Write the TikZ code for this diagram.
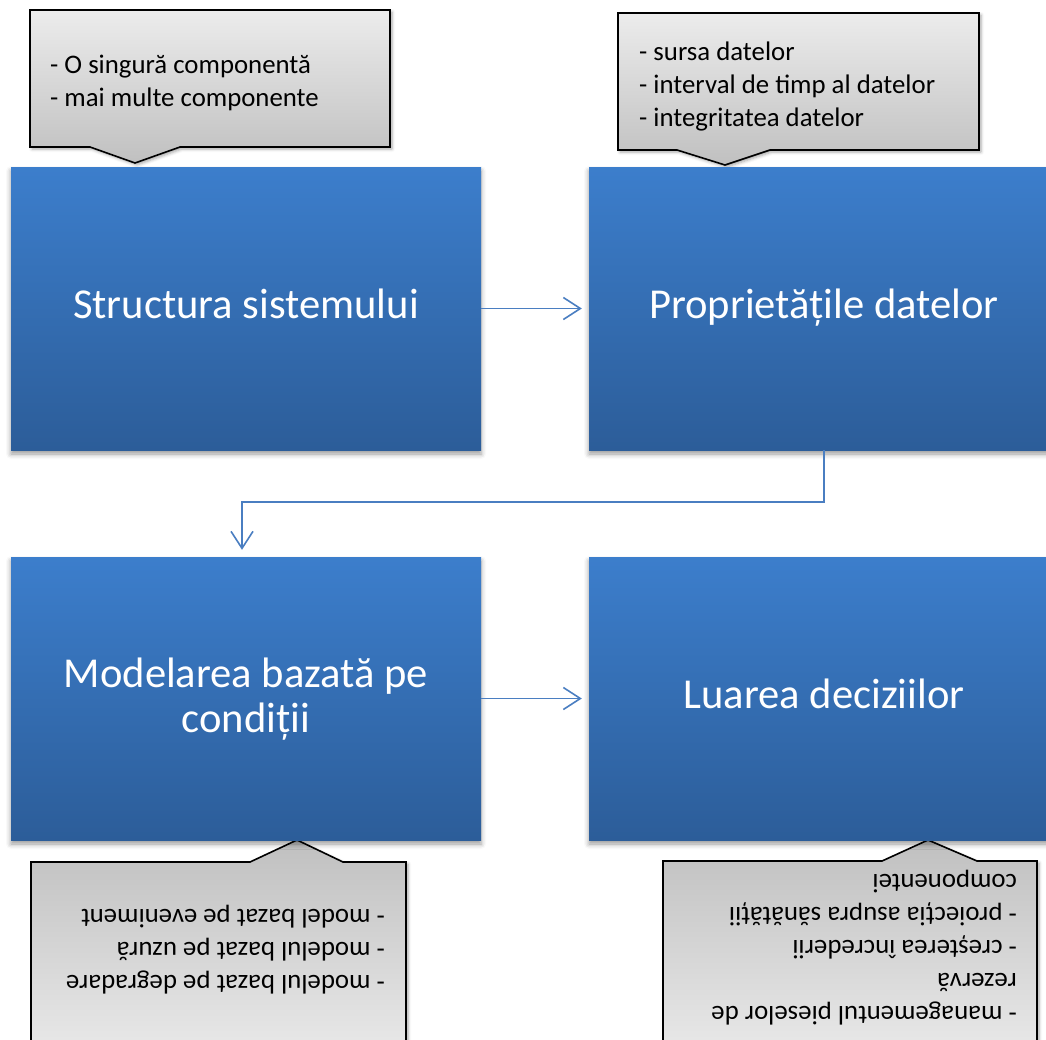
\documentclass[tikz,border=0pt]{standalone}
\usepackage{fontspec}
\setmainfont{Carlito}
\usetikzlibrary{arrows.meta,shadows.blur}

\definecolor{boxtop}{RGB}{60,126,204}
\definecolor{boxbot}{RGB}{44,93,153}
\definecolor{calllight}{RGB}{236,236,236}
\definecolor{calldark}{RGB}{192,192,192}
\definecolor{linkblue}{RGB}{74,126,193}

\begin{document}
\begin{tikzpicture}[x=1pt,y=-1pt,
  stage/.style={draw=none, minimum width=470pt, minimum height=283pt,
    inner sep=0pt, top color=boxtop, bottom color=boxbot, text=white,
    font=\fontsize{42.6}{45}\selectfont, align=center,
    blur shadow={shadow xshift=0pt, shadow yshift=-4pt,
      shadow blur radius=5pt, shadow opacity=40}},
  note/.style={draw=black, line width=1.6pt, line join=miter,
    blur shadow={shadow xshift=2pt, shadow yshift=-2pt,
      shadow blur radius=3pt, shadow opacity=35}},
  notetext/.style={inner sep=0pt, align=left,
    font=\fontsize{26.8}{33}\selectfont, anchor=north west},
  link/.style={draw=linkblue, line width=1.6pt,
    -{Straight Barb[length=17pt,width=22pt]}, shorten >=7pt}
]
\path[use as bounding box] (0,0) rectangle (1046,1039);
\clip (0,0) rectangle (1046,1039);

% callouts above the first row
\draw[note, top color=calllight, bottom color=calldark]
  (30,10) -- (390,10) -- (390,147) -- (180,147) -- (135,163) -- (90,147)
  -- (30,147) -- cycle;
\draw[note, top color=calllight, bottom color=calldark]
  (618,13) -- (979,13) -- (979,150) -- (770,150) -- (725,165) -- (677,150)
  -- (618,150) -- cycle;

% callouts below the second row (turned upside down)
\draw[note, top color=calldark, bottom color=calllight]
  (31,1070) -- (31,862) -- (250,862) -- (297,840) -- (343,862)
  -- (406,862) -- (406,1070) -- cycle;
\draw[note, top color=calldark, bottom color=calllight]
  (663,1070) -- (663,861) -- (882,861) -- (928,840) -- (977,861)
  -- (1037,861) -- (1037,1070) -- cycle;

% the four stages
\node[stage] (s1) at (246,308.5) {\rule[-14pt]{0pt}{47pt}Structura sistemului};
\node[stage] (s2) at (824,308.5) {\rule[-14pt]{0pt}{47pt}Proprietățile datelor};
\node[stage] (s3) at (246,698.5) {\rule{0pt}{33pt}Modelarea bazată pe\\condiții\rule[-11pt]{0pt}{11pt}};
\node[stage] (s4) at (824,698.5) {\rule[-14pt]{0pt}{47pt}Luarea deciziilor};

% callout texts
\node[notetext] (n1) at (50,50)
  {\strut- O singură componentă\\- mai multe componente};
\node[notetext] (n2) at (639,37)
  {\strut- sursa datelor\\- interval de timp al datelor\\- integritatea datelor};
\node[notetext, rotate=180] (n3) at (385,999)
  {\strut- modelul bazat pe degradare\\- modelul bazat pe uzură\\- model bazat pe eveniment};
\node[notetext, rotate=180] (n4) at (1017,1030)
  {\strut- managementul pieselor de\\rezervă\\- creșterea încrederii\\- proiecția asupra sănătății\\componentei};

% connectors
\draw[link] (s1.east) -- (s2.west);
\draw[link] (s2.south) -- ++(0,52) -| ([xshift=-4pt]s3.north);
\draw[link] (s3.east) -- (s4.west);
\end{tikzpicture}
\end{document}
